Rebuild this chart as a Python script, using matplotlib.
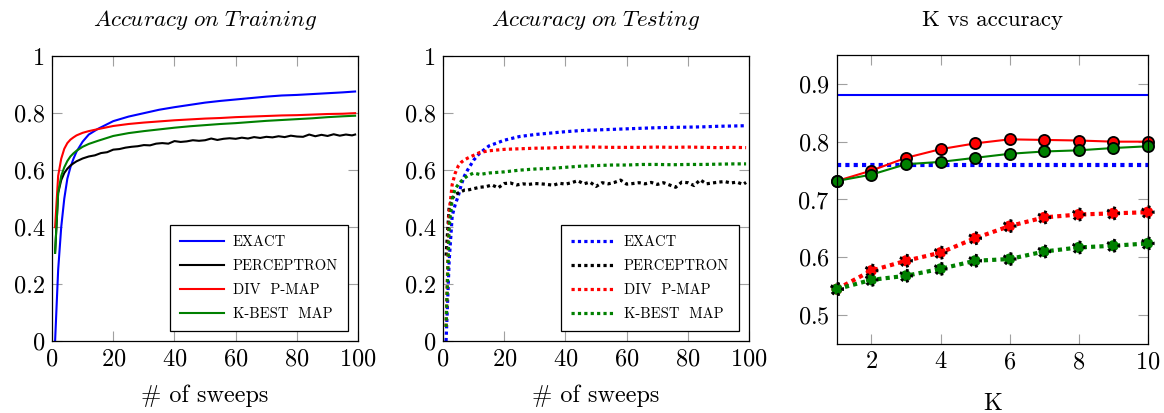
import matplotlib
matplotlib.use("Agg")
import matplotlib.pyplot as plt

# Computer Modern look, like the LaTeX/pgfplots original
plt.rcParams["font.family"] = "serif"
plt.rcParams["font.serif"] = ["cmr10", "DejaVu Serif"]
plt.rcParams["mathtext.fontset"] = "cm"
plt.rcParams["axes.formatter.use_mathtext"] = True

BLUE = (0, 0, 1)
RED = (1, 0, 0)
GREEN = (0, 0.5, 0)
BLACK = (0, 0, 0)

# ---- data: accuracy vs sweeps ----
sweeps = [1, 2, 3, 4, 5, 6, 7, 8, 10, 12, 15, 20, 25, 30, 35, 40, 45, 50,
          55, 60, 65, 70, 75, 80, 85, 90, 95, 99]
perc_sweeps = [1, 2, 3, 4, 5, 6, 7, 8, 10, 12, 14, 16, 18, 20, 22, 24, 26, 28,
               30, 32, 34, 36, 38, 40, 42, 44, 46, 48, 50, 52, 54, 56, 58, 60,
               62, 64, 66, 68, 70, 72, 74, 76, 78, 80, 82, 84, 86, 88, 90, 92,
               94, 96, 98, 99]

exact_train = [0.0, 0.25, 0.40, 0.50, 0.57, 0.61, 0.64, 0.665, 0.70, 0.725, 0.745,
               0.772, 0.788, 0.80, 0.812, 0.821, 0.829, 0.837, 0.843, 0.848, 0.853,
               0.858, 0.862, 0.864, 0.867, 0.870, 0.873, 0.876]
div_train = [0.40, 0.58, 0.64, 0.675, 0.695, 0.707, 0.715, 0.722, 0.731, 0.737, 0.744,
             0.755, 0.762, 0.767, 0.771, 0.775, 0.778, 0.781, 0.783, 0.786, 0.788,
             0.790, 0.792, 0.793, 0.795, 0.797, 0.798, 0.800]
kbest_train = [0.31, 0.52, 0.58, 0.61, 0.632, 0.648, 0.659, 0.668, 0.682, 0.692, 0.703,
               0.720, 0.730, 0.737, 0.743, 0.749, 0.754, 0.758, 0.762, 0.765, 0.769,
               0.773, 0.776, 0.779, 0.782, 0.786, 0.789, 0.791]
perc_train = [0.31, 0.52, 0.565, 0.59, 0.605, 0.616, 0.624, 0.631, 0.641, 0.648, 0.652,
              0.660, 0.663, 0.672, 0.674, 0.679, 0.682, 0.684, 0.688, 0.687, 0.693,
              0.695, 0.693, 0.702, 0.699, 0.701, 0.705, 0.703, 0.705, 0.711, 0.706,
              0.710, 0.712, 0.710, 0.714, 0.711, 0.716, 0.713, 0.717, 0.715, 0.719,
              0.716, 0.721, 0.718, 0.717, 0.725, 0.719, 0.724, 0.720, 0.726, 0.721,
              0.725, 0.722, 0.725]

exact_test = [0.0, 0.28, 0.44, 0.48, 0.51, 0.55, 0.58, 0.60, 0.635, 0.66, 0.685,
              0.705, 0.718, 0.725, 0.730, 0.735, 0.739, 0.741, 0.743, 0.745, 0.747,
              0.749, 0.750, 0.751, 0.752, 0.754, 0.755, 0.756]
div_test = [0.05, 0.45, 0.55, 0.59, 0.615, 0.628, 0.636, 0.642, 0.652, 0.662, 0.668,
            0.673, 0.675, 0.677, 0.678, 0.680, 0.681, 0.681, 0.680, 0.680, 0.680,
            0.681, 0.680, 0.681, 0.680, 0.679, 0.680, 0.679]
kbest_test = [0.05, 0.40, 0.50, 0.535, 0.55, 0.562, 0.572, 0.58, 0.59, 0.585, 0.59,
              0.594, 0.600, 0.604, 0.606, 0.610, 0.614, 0.616, 0.618, 0.618, 0.620,
              0.620, 0.619, 0.620, 0.620, 0.621, 0.622, 0.622]
perc_test = [0.30, 0.47, 0.50, 0.515, 0.52, 0.525, 0.53, 0.53, 0.535, 0.540, 0.542,
             0.548, 0.538, 0.553, 0.555, 0.548, 0.552, 0.550, 0.553, 0.552, 0.550,
             0.547, 0.554, 0.551, 0.556, 0.563, 0.552, 0.558, 0.543, 0.556, 0.552,
             0.557, 0.565, 0.551, 0.553, 0.556, 0.552, 0.557, 0.550, 0.556, 0.548,
             0.540, 0.558, 0.556, 0.546, 0.566, 0.552, 0.555, 0.558, 0.560, 0.555,
             0.558, 0.550, 0.557]

# ---- data: accuracy vs K ----
k_values = [1, 2, 3, 4, 5, 6, 7, 8, 9, 10]
exact_train_k = [0.88, 0.88, 0.88, 0.88, 0.88, 0.88, 0.88, 0.88, 0.88, 0.88]
exact_test_k = [0.76, 0.76, 0.76, 0.76, 0.76, 0.76, 0.76, 0.76, 0.76, 0.76]
div_train_k = [0.732, 0.750, 0.772, 0.787, 0.797, 0.804, 0.803, 0.802, 0.800, 0.800]
kbest_train_k = [0.732, 0.743, 0.761, 0.765, 0.772, 0.779, 0.783, 0.785, 0.789, 0.792]
div_test_k = [0.545, 0.577, 0.594, 0.608, 0.633, 0.654, 0.669, 0.674, 0.676, 0.678]
kbest_test_k = [0.545, 0.561, 0.568, 0.580, 0.594, 0.597, 0.610, 0.617, 0.620, 0.624]

labels = ["EXACT", "PERCEPTRON", "DIV  P-MAP", "K-BEST  MAP"]
DOT = (0, (1, 1))

fig = plt.figure(figsize=(11.64, 4.13), dpi=100)
ax1 = fig.add_axes([0.0447, 0.174, 0.263, 0.690])
ax2 = fig.add_axes([0.3806, 0.174, 0.263, 0.690])
ax3 = fig.add_axes([0.719, 0.167, 0.267, 0.700])


def style_axes(ax):
    ax.tick_params(direction="in", top=True, right=True, length=7,
                   color="#a0a0a0", labelsize=17.5, pad=5)
    for s in ax.spines.values():
        s.set_linewidth(0.9)


# training panel
ax1.plot(sweeps, exact_train, color=BLUE, lw=1.5, label=labels[0])
ax1.plot(perc_sweeps, perc_train, color=BLACK, lw=1.5, label=labels[1])
ax1.plot(sweeps, div_train, color=RED, lw=1.5, label=labels[2])
ax1.plot(sweeps, kbest_train, color=GREEN, lw=1.5, label=labels[3])
ax1.set_title(r"$\mathit{Accuracy\ on\ Training}$", fontsize=16.5, pad=22)

# testing panel
ax2.plot(sweeps, exact_test, color=BLUE, lw=2.3, ls=DOT, label=labels[0])
ax2.plot(perc_sweeps, perc_test, color=BLACK, lw=2.3, ls=DOT, label=labels[1])
ax2.plot(sweeps, div_test, color=RED, lw=2.3, ls=DOT, label=labels[2])
ax2.plot(sweeps, kbest_test, color=GREEN, lw=2.3, ls=DOT, label=labels[3])
ax2.set_title(r"$\mathit{Accuracy\ on\ Testing}$", fontsize=16.5, pad=22)

for ax in (ax1, ax2):
    ax.set_xlim(0, 100)
    ax.set_ylim(0, 1)
    ax.set_xticks([0, 20, 40, 60, 80, 100])
    ax.set_yticks([0, 0.2, 0.4, 0.6, 0.8, 1])
    ax.set_yticklabels(["0", "0.2", "0.4", "0.6", "0.8", "1"])
    ax.set_xlabel("# of sweeps", fontsize=17.5, labelpad=10)
    style_axes(ax)
    leg = ax.legend(loc="lower right", fontsize=10.5, handlelength=3.0,
                    fancybox=False, framealpha=1, edgecolor="black",
                    borderpad=0.7, labelspacing=0.7, handletextpad=0.6,
                    borderaxespad=0, bbox_to_anchor=(0.968, 0.035))
    leg.get_frame().set_linewidth(0.9)

# K panel
ax3.plot(k_values, exact_train_k, color=BLUE, lw=1.5)
ax3.plot(k_values, exact_test_k, color=BLUE, lw=3, ls=DOT)
ax3.plot(k_values, div_train_k, color=RED, lw=1.5, marker="o", ms=8,
         mfc=RED, mec="black", mew=1.3, clip_on=False)
ax3.plot(k_values, kbest_train_k, color=GREEN, lw=1.5, marker="o", ms=8,
         mfc=GREEN, mec="black", mew=1.3, clip_on=False)
ax3.plot(k_values, div_test_k, color=RED, lw=3, ls=DOT)
ax3.scatter(k_values, div_test_k, s=64, c=[RED], edgecolors="black",
            linewidths=2, linestyles=":", zorder=3, clip_on=False)
ax3.plot(k_values, kbest_test_k, color=GREEN, lw=3, ls=DOT)
ax3.scatter(k_values, kbest_test_k, s=64, c=[GREEN], edgecolors="black",
            linewidths=2, linestyles=":", zorder=3, clip_on=False)
ax3.set_xlim(1, 10)
ax3.set_ylim(0.45, 0.95)
ax3.set_xticks([2, 4, 6, 8, 10])
ax3.set_yticks([0.5, 0.6, 0.7, 0.8, 0.9])
ax3.set_title("K vs accuracy", fontsize=16.5, pad=21)
ax3.set_xlabel("K", fontsize=17.5, labelpad=14)
style_axes(ax3)

fig.savefig("out.png", dpi=100)
